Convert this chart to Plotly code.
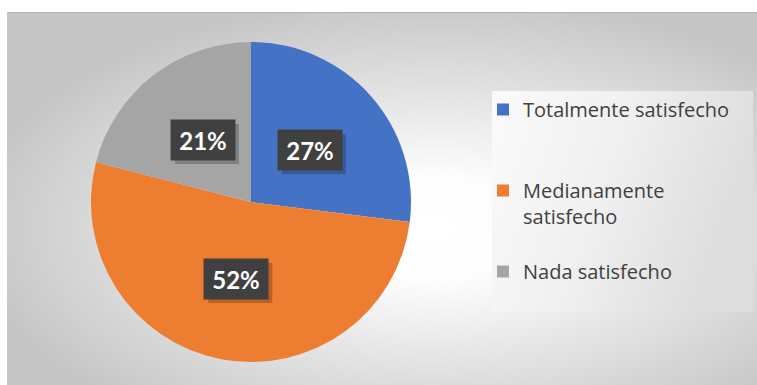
import base64
import math
import plotly.graph_objects as go

# Survey answers and their shares (%)
categorias = ["Totalmente satisfecho", "Medianamente satisfecho", "Nada satisfecho"]
valores = [27, 52, 21]
colores = ["#4472C4", "#ED7D31", "#A5A5A5"]

# Legend labels (with blank lines to spread the entries down the box)
etiquetas_leyenda = [
    "Totalmente satisfecho<br> <br> ",
    "Medianamente<br>satisfecho<br> ",
    "Nada satisfecho",
]

W, H = 757, 385

# Pie placement in pixels
cx, cy, R = 251, 202, 160

# Callout box half-size and drop-shadow offset, in pixels
BOX_HW, BOX_HH, SOMBRA = 32, 20, 4

# Background: radial grey gradient frame and a softly shaded legend panel
svg = f"""<svg xmlns='http://www.w3.org/2000/svg' width='{W}' height='{H}' viewBox='0 0 {W} {H}' preserveAspectRatio='none'>
<defs>
<radialGradient id='bg' cx='0.57' cy='0.58' r='0.62'>
<stop offset='0' stop-color='#ffffff'/>
<stop offset='0.22' stop-color='#fdfdfd'/>
<stop offset='1' stop-color='#c6c6c6'/>
</radialGradient>
<linearGradient id='lg' x1='0' y1='0' x2='1' y2='0.3'>
<stop offset='0' stop-color='#fbfbfb'/>
<stop offset='0.5' stop-color='#f0f0f0'/>
<stop offset='1' stop-color='#dddddd'/>
</linearGradient>
</defs>
<rect x='0' y='0' width='{W}' height='{H}' fill='#ffffff'/>
<rect x='7' y='12' width='{W-7}' height='{H-12}' fill='url(#bg)'/>
<line x1='7' y1='12.5' x2='{W}' y2='12.5' stroke='#b0b0b0' stroke-width='1'/>
<rect x='492' y='91' width='261' height='221' fill='url(#lg)'/>
</svg>"""
svg_uri = "data:image/svg+xml;base64," + base64.b64encode(svg.encode()).decode()

fig = go.Figure()
fig.add_trace(go.Pie(
    labels=etiquetas_leyenda,
    values=valores,
    marker=dict(colors=colores, line=dict(width=0)),
    sort=False,
    direction="clockwise",
    rotation=0,
    textinfo="none",
    hoverinfo="label+percent",
    domain=dict(x=[(cx - R) / W, (cx + R) / W], y=[1 - (cy + R) / H, 1 - (cy - R) / H]),
))

# Percentage callouts: dark boxes placed at each slice's mid-angle
total = sum(valores)
acum = 0
for v in valores:
    mid = (acum + v / 2) / total * 2 * math.pi
    acum += v
    px = cx + 0.49 * R * math.sin(mid)
    py = cy - 0.49 * R * math.cos(mid)
    texto = f"<b>{round(v / total * 100)}%</b>"
    # soft drop shadow behind the box
    fig.add_shape(
        type="rect", xref="paper", yref="paper", layer="above",
        x0=(px - BOX_HW + SOMBRA) / W, x1=(px + BOX_HW + SOMBRA) / W,
        y0=1 - (py + BOX_HH + SOMBRA) / H, y1=1 - (py - BOX_HH + SOMBRA) / H,
        fillcolor="rgba(0,0,0,0.22)", line=dict(width=0),
    )
    fig.add_annotation(
        x=px / W, y=1 - py / H, xref="paper", yref="paper", text=texto,
        xanchor="center", yanchor="middle",
        showarrow=False, width=2 * BOX_HW - 14, height=2 * BOX_HH - 14,
        font=dict(family="Lato", size=24, color="#ffffff"),
        bgcolor="#404040", borderpad=7,
    )

fig.update_layout(
    width=W, height=H,
    margin=dict(l=0, r=0, t=0, b=0),
    paper_bgcolor="#ffffff",
    showlegend=True,
    legend=dict(
        x=483 / W, y=1 - 90 / H, xanchor="left", yanchor="top",
        bgcolor="rgba(0,0,0,0)",
        font=dict(family="Open Sans", size=20, color="#404040"),
        valign="top",
        traceorder="normal",
    ),
    images=[dict(
        source=svg_uri, xref="paper", yref="paper", x=0, y=1,
        sizex=1, sizey=1, sizing="stretch", xanchor="left", yanchor="top",
        layer="below",
    )],
)

fig.write_html("out.html")
